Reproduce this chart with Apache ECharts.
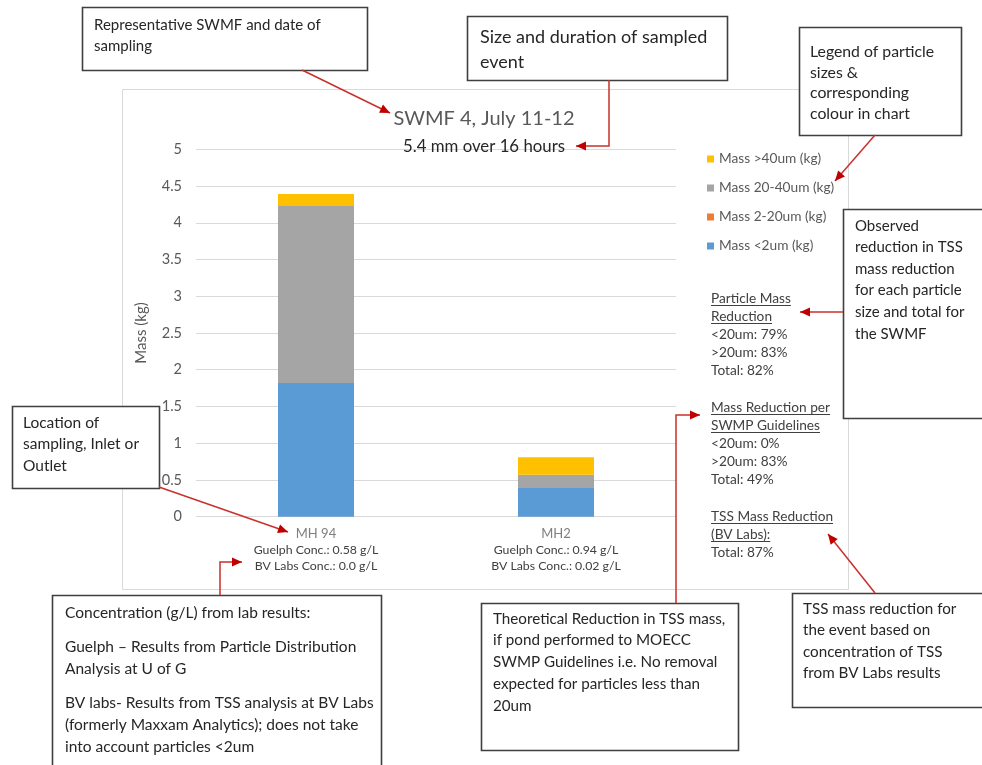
<!DOCTYPE html>
<html><head><meta charset="utf-8">
<script src="https://cdn.jsdelivr.net/npm/echarts@6/dist/echarts.min.js"></script>
<style>html,body{margin:0;padding:0;background:#fff}#c{width:982px;height:765px}</style>
</head><body><div id="c"></div>
<script>
// ---- data ----
const categories = ['MH 94', 'MH2'];
const guelphConc = ['0.58', '0.94'];
const bvLabsConc = ['0.0', '0.02'];
const seriesNames = ['Mass <2um (kg)', 'Mass 2-20um (kg)', 'Mass 20-40um (kg)', 'Mass >40um (kg)'];
const massLt2 = [1.82, 0.39];
const mass2to20 = [0, 0];
const mass20to40 = [2.42, 0.18];
const massGt40 = [0.15, 0.24];
const yMin = 0, yMax = 5, yStep = 0.5;
const chartTitle = 'SWMF 4, July 11-12';
const chartSubtitle = '5.4 mm over 16 hours';
const particleReduction = ['<20um: 79%', '>20um: 83%', 'Total: 82%'];
const swmpReduction = ['<20um: 0%', '>20um: 83%', 'Total: 49%'];
const bvReduction = ['Total: 87%'];

const FONT = 'Lato, "Liberation Sans", sans-serif';
const colors = ['#5b9bd5', '#ed7d31', '#a5a5a5', '#ffc000'];
const seriesData = [massLt2, mass2to20, mass20to40, massGt40];

const cv = document.createElement('canvas').getContext('2d');
function tw(t, size) { cv.font = size + 'px Lato'; return cv.measureText(t).width; }

const G = [];
// chart frame
G.push({ type: 'rect', z: 0, silent: true, shape: { x: 122.5, y: 89.5, width: 726, height: 500 },
  style: { fill: 'none', stroke: '#d9d9d9', lineWidth: 1 } });

function box(x, y, w, h) {
  G.push({ type: 'rect', z: 100, shape: { x: x + 0.5, y: y + 0.5, width: w, height: h },
    style: { fill: '#fff', stroke: '#3f3f3f', lineWidth: 1.6 } });
}
function txt(x, y, text, size, lh, color, z) {
  G.push({ type: 'text', z: z || 101, x: x, y: y,
    style: { text: text, fontSize: size, fontFamily: FONT, fill: color || '#262626', lineHeight: lh,
      textVerticalAlign: 'top', textAlign: 'left' } });
}
function arrow(pts) {
  G.push({ type: 'polyline', z: 120, shape: { points: pts }, style: { stroke: '#c9302c', lineWidth: 1.5, fill: null } });
  const a = pts[pts.length - 2], b = pts[pts.length - 1];
  const dx = b[0] - a[0], dy = b[1] - a[1], L = Math.hypot(dx, dy), ux = dx / L, uy = dy / L;
  const hl = 10, hw = 4.5;
  const bx = b[0] - ux * hl, by = b[1] - uy * hl;
  G.push({ type: 'polygon', z: 121, shape: { points: [b, [bx - uy * hw, by + ux * hw], [bx + uy * hw, by - ux * hw]] },
    style: { fill: '#c00000' } });
}
function block(x, top, head, lines) {
  const lh = 18.2, fs = 13.7;
  txt(x, top, head.concat(lines).join('\n'), fs, lh, '#404040', 50);
  head.forEach((h, i) => {
    const yy = Math.round(top + lh * i + lh / 2 + 7) + 0.5;
    G.push({ type: 'line', z: 50, shape: { x1: x, y1: yy, x2: x + tw(h, fs), y2: yy }, style: { stroke: '#404040', lineWidth: 1 } });
  });
}

// annotation boxes
box(82, 7, 285, 63);   txt(94, 14.5, 'Representative SWMF and date of\nsampling', 15, 21);
box(467, 16, 260, 64); txt(480, 24.5, 'Size and duration of sampled\nevent', 18, 25);
box(799, 27, 162, 108); txt(810, 42, 'Legend of particle\nsizes &\ncorresponding\ncolour in chart', 15.8, 20.5);
box(843, 209, 145, 209); txt(855, 215, 'Observed\nreduction in TSS\nmass reduction\nfor each particle\nsize and total for\nthe SWMF', 15, 21.6);
box(12, 406, 147, 82); txt(23, 412, 'Location of\nsampling, Inlet or\nOutlet', 15.5, 21.5);
box(52, 595, 329, 180);
txt(65, 602, 'Concentration (g/L) from lab results:', 15.5, 22);
txt(65, 636, 'Guelph \u2013 Results from Particle Distribution\nAnalysis at U of G', 15.5, 22);
txt(65, 692, 'BV labs- Results from TSS analysis at BV Labs\n(formerly Maxxam Analytics); does not take\ninto account particles <2um', 15.5, 22);
box(481, 603, 257, 147); txt(493, 608, 'Theoretical Reduction in TSS mass,\nif pond performed to MOECC\nSWMP Guidelines i.e. No removal\nexpected for particles less than\n20um', 15.2, 21.7);
box(792, 593, 195, 114); txt(803, 598.5, 'TSS mass reduction for\nthe event based on\nconcentration of TSS\nfrom BV Labs results', 15.2, 21.3);

// reduction text blocks
block(711, 289, ['Particle Mass', 'Reduction'], particleReduction);
block(711, 398, ['Mass Reduction per', 'SWMP Guidelines'], swmpReduction);
block(711, 507, ['TSS Mass Reduction', '(BV Labs):'], bvReduction);

// arrows
arrow([[302, 70], [390, 113]]);
arrow([[609, 80], [609, 146], [576, 146]]);
arrow([[875, 135], [835, 181]]);
arrow([[843, 312], [800, 312]]);
arrow([[159, 487], [288, 532]]);
arrow([[220, 595], [220, 562], [242, 562]]);
arrow([[676, 603], [676, 415], [700, 415]]);
arrow([[875, 593], [828, 534]]);

const chart = echarts.init(document.getElementById('c'), null, { renderer: 'canvas' });
chart.setOption({
  backgroundColor: '#fff',
  animation: false,
  textStyle: { fontFamily: FONT },
  title: [
    { text: chartTitle, left: 479, top: 104, textAlign: 'center',
      textStyle: { fontSize: 20, fontWeight: 'normal', color: '#595959', fontFamily: FONT } },
    { text: chartSubtitle, left: 479, top: 133, textAlign: 'center',
      textStyle: { fontSize: 16.8, fontWeight: 'normal', color: '#262626', fontFamily: FONT } }
  ],
  legend: {
    orient: 'vertical', left: 702, top: 147,
    data: seriesNames.slice().reverse(),
    icon: 'rect', itemWidth: 7, itemHeight: 7, itemGap: 15,
    textStyle: { fontSize: 13.7, color: '#595959', fontFamily: FONT, lineHeight: 14 }
  },
  grid: { left: 196, right: 306, top: 149.3, bottom: 248.3 },
  xAxis: {
    type: 'category', data: categories,
    axisLine: { show: false }, axisTick: { show: false },
    axisLabel: {
      margin: 10, interval: 0,
      formatter: (v, i) => '{a|' + v + '}\n{b|Guelph Conc.: ' + guelphConc[i] + ' g/L}\n{b|BV Labs Conc.: ' + bvLabsConc[i] + ' g/L}',
      rich: {
        a: { fontSize: 13, color: '#7f7f7f', lineHeight: 15, fontFamily: FONT },
        b: { fontSize: 12.3, color: '#404040', lineHeight: 16, fontFamily: FONT }
      }
    }
  },
  yAxis: {
    type: 'value', min: yMin, max: yMax, interval: yStep,
    name: 'Mass (kg)', nameLocation: 'middle', nameGap: 47, nameRotate: 90,
    nameTextStyle: { fontSize: 15, color: '#595959', fontFamily: FONT },
    axisLine: { show: false }, axisTick: { show: false },
    axisLabel: { fontSize: 14.5, color: '#595959', margin: 14, fontFamily: FONT },
    splitLine: { lineStyle: { color: '#d9d9d9', width: 1 } }
  },
  series: seriesNames.map((n, k) => ({
    name: n, type: 'bar', stack: 'mass', barWidth: 76,
    itemStyle: { color: colors[k] }, data: seriesData[k]
  })),
  graphic: { elements: G }
});
</script></body></html>
